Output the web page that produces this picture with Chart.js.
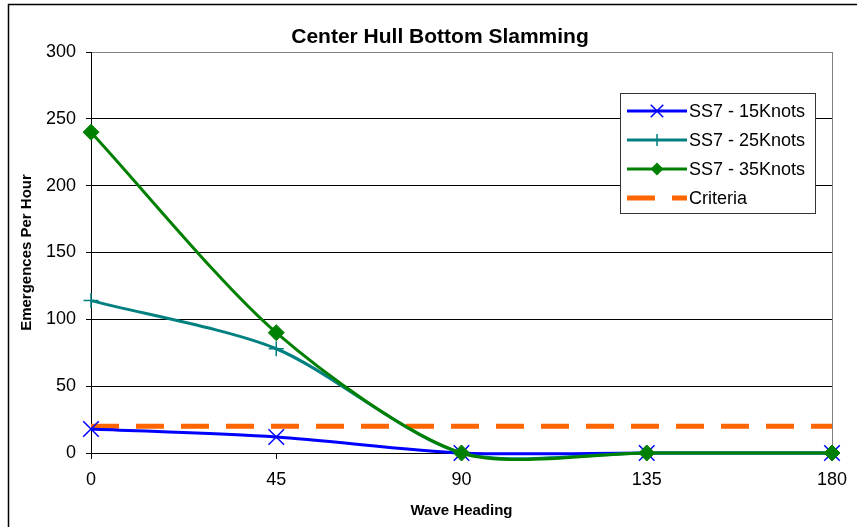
<!DOCTYPE html>
<html>
<head>
<meta charset="utf-8">
<script src="https://cdn.jsdelivr.net/npm/chart.js@4.4.1/dist/chart.umd.min.js"></script>
<style>
  html, body { margin: 0; padding: 0; background: #fff; }
  canvas { display: block; }
</style>
</head>
<body>
<canvas id="slamChart" width="857" height="527"></canvas>
<script>
// 데이터
const headings = [0, 45, 90, 135, 180];
const knots15 = [18, 12, 0, 0, 0];
const knots25 = [114, 78, 0, 0, 0];
const knots35 = [240, 90, 0, 0, 0];
const criteria = [20, 20, 20, 20, 20];
const seriesLabels = ['SS7 - 15Knots', 'SS7 - 25Knots', 'SS7 - 35Knots', 'Criteria'];
const chartTitle = 'Center Hull Bottom Slamming';

const FONT = 'Arial, "Liberation Sans", sans-serif';

function toPoints(vals) {
  return headings.map((h, i) => ({ x: h, y: vals[i] }));
}

// 마커 그리기 (범례용)
function drawMarker(ctx, style, x, y, r, color) {
  ctx.save();
  ctx.strokeStyle = color;
  ctx.fillStyle = color;
  ctx.lineWidth = 1.5;
  ctx.setLineDash([]);
  ctx.beginPath();
  if (style === 'crossRot') {
    const d = r * Math.SQRT1_2;
    ctx.moveTo(x - d, y - d); ctx.lineTo(x + d, y + d);
    ctx.moveTo(x + d, y - d); ctx.lineTo(x - d, y + d);
    ctx.stroke();
  } else if (style === 'cross') {
    ctx.moveTo(x, y - r); ctx.lineTo(x, y + r);
    ctx.moveTo(x - r, y); ctx.lineTo(x + r, y);
    ctx.stroke();
  } else if (style === 'rectRot') {
    ctx.moveTo(x, y - r); ctx.lineTo(x + r, y); ctx.lineTo(x, y + r); ctx.lineTo(x - r, y);
    ctx.closePath();
    ctx.fill();
  }
  ctx.restore();
}

// 제목, 외곽선, 범례
const decorPlugin = {
  id: 'decor',
  afterDraw(chart) {
    const ctx = chart.ctx;
    ctx.save();

    // 외곽 테두리
    ctx.strokeStyle = '#000';
    ctx.lineWidth = 1.5;
    ctx.beginPath();
    ctx.moveTo(8.5, 527);
    ctx.lineTo(8.5, 4.5);
    ctx.lineTo(857, 4.5);
    ctx.stroke();

    // 제목
    ctx.fillStyle = '#000';
    ctx.font = 'bold 21px ' + FONT;
    ctx.textAlign = 'center';
    ctx.textBaseline = 'alphabetic';
    ctx.fillText(chartTitle, 440, 43);

    // 범례
    const box = { left: 620, top: 93, right: 815, bottom: 213 };
    ctx.fillStyle = '#fff';
    ctx.fillRect(box.left, box.top, box.right - box.left, box.bottom - box.top);
    ctx.strokeStyle = '#333';
    ctx.lineWidth = 1;
    ctx.strokeRect(box.left + 0.5, box.top + 0.5, box.right - box.left, box.bottom - box.top);

    const rows = [111, 140, 169, 198];
    chart.data.datasets.forEach((ds, i) => {
      const y = rows[i];
      ctx.save();
      ctx.strokeStyle = ds.borderColor;
      ctx.lineWidth = ds.borderWidth;
      ctx.setLineDash(ds.borderDash || []);
      ctx.beginPath();
      ctx.moveTo(627, y);
      ctx.lineTo(687, y);
      ctx.stroke();
      ctx.restore();
      if (ds.pointRadius > 0) {
        drawMarker(ctx, ds.pointStyle, 657, y, ds.pointRadius * 0.8, ds.borderColor);
      }
      ctx.fillStyle = '#000';
      ctx.font = '18px ' + FONT;
      ctx.textAlign = 'left';
      ctx.textBaseline = 'middle';
      ctx.fillText(ds.label, 689, y + 1);
    });

    ctx.restore();
  }
};

const ctx = document.getElementById('slamChart').getContext('2d');
new Chart(ctx, {
  type: 'line',
  data: {
    datasets: [
      {
        label: seriesLabels[0],
        data: toPoints(knots15),
        borderColor: '#0000FF',
        backgroundColor: '#0000FF',
        borderWidth: 3,
        pointStyle: 'crossRot',
        pointRadius: 11,
        pointBorderWidth: 1.5,
        order: 3
      },
      {
        label: seriesLabels[1],
        data: toPoints(knots25),
        borderColor: '#008080',
        backgroundColor: '#008080',
        borderWidth: 3,
        pointStyle: 'cross',
        pointRadius: 7.5,
        pointBorderWidth: 1.5,
        order: 2
      },
      {
        label: seriesLabels[2],
        data: toPoints(knots35),
        borderColor: '#008000',
        backgroundColor: '#008000',
        borderWidth: 3,
        pointStyle: 'rectRot',
        pointRadius: 8,
        pointBorderWidth: 1,
        order: 1
      },
      {
        label: seriesLabels[3],
        data: toPoints(criteria),
        borderColor: '#FF6600',
        backgroundColor: '#FF6600',
        borderWidth: 5,
        borderDash: [28, 17],
        pointRadius: 0,
        tension: 0,
        order: 4
      }
    ]
  },
  options: {
    responsive: false,
    animation: false,
    devicePixelRatio: 1,
    clip: false,
    layout: { padding: { left: 8, top: 52, right: 25, bottom: 0 } },
    elements: {
      line: { tension: 0.27, capBezierPoints: false, fill: false }
    },
    plugins: {
      legend: { display: false },
      title: { display: false },
      tooltip: { enabled: false }
    },
    scales: {
      x: {
        type: 'linear',
        min: 0,
        max: 180,
        ticks: { stepSize: 45, color: '#000', font: { family: FONT, size: 18 }, padding: 10 },
        grid: {
          drawOnChartArea: true,
          color: c => (c.tick && c.tick.value === 180 ? '#808080' : 'transparent'),
          tickColor: '#000',
          tickLength: 6
        },
        border: { color: '#000', width: 1 },
        title: {
          display: true,
          text: 'Wave Heading',
          color: '#000',
          font: { family: FONT, size: 15, weight: 'bold' },
          padding: { top: 4, bottom: 7 }
        },
        afterFit(scale) {
          scale.height = 74;
          scale.paddingLeft = 0;
          scale.paddingRight = 0;
        }
      },
      y: {
        min: 0,
        max: 300,
        ticks: { stepSize: 50, color: '#000', font: { family: FONT, size: 18 }, padding: 10 },
        grid: {
          color: c => (c.tick && c.tick.value === 300 ? '#808080' : '#000'),
          tickColor: '#000',
          tickLength: 5
        },
        border: { color: '#000', width: 1 },
        title: {
          display: true,
          text: 'Emergences Per Hour',
          color: '#000',
          font: { family: FONT, size: 15, weight: 'bold' },
          padding: { top: 10, bottom: 4 }
        },
        afterFit(scale) {
          scale.width = 83;
          scale.paddingTop = 0;
          scale.paddingBottom = 0;
        }
      }
    }
  },
  plugins: [decorPlugin]
});
</script>
</body>
</html>
